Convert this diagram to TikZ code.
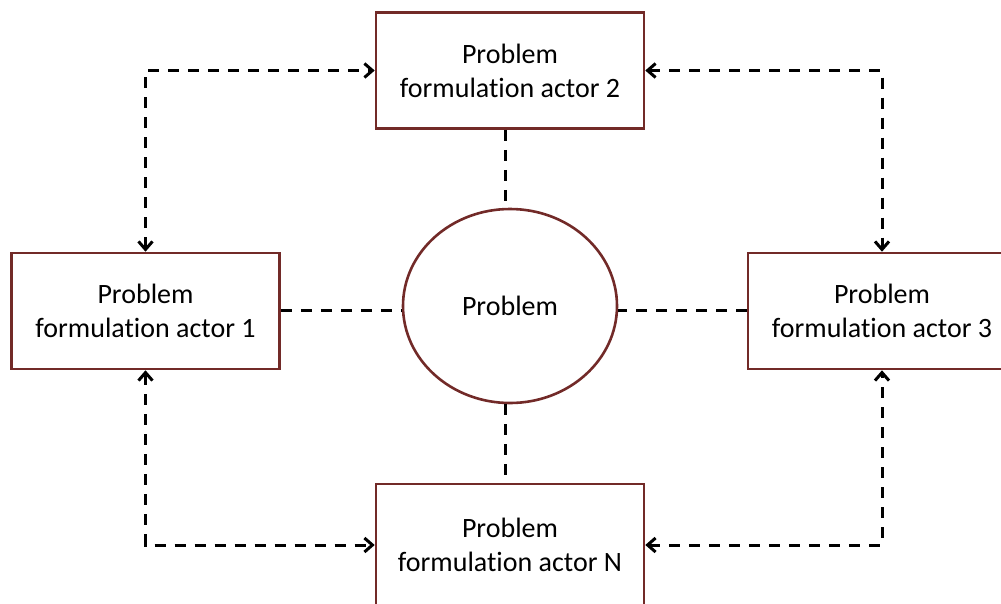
\documentclass[tikz,border=0pt]{standalone}
\usepackage{fontspec}
\setmainfont{Carlito}[RawFeature=-liga]
\usetikzlibrary{arrows.meta,shapes.geometric}
\definecolor{boxline}{RGB}{114,42,40}
\tikzset{
  actor/.style={draw=boxline, line width=2.6pt, fill=white, rectangle,
    minimum width=268pt, minimum height=116pt, align=center,
    font=\fontsize{28}{34}\selectfont, inner sep=0pt},
  core/.style={draw=boxline, line width=2.6pt, ellipse, fill=white,
    minimum width=214pt, minimum height=194pt, inner sep=0pt,
    font=\fontsize{28}{34}\selectfont},
  link/.style={black, line width=3pt, dash pattern=on 11pt off 9pt},
  twoway/.style={link, {Straight Barb[length=8pt,width=14pt]}-{Straight Barb[length=8pt,width=14pt]}}
}
\begin{document}
\begin{tikzpicture}[x=1pt, y=-1pt]
  \useasboundingbox (0,0) rectangle (1001,603);
  \clip (0,0) rectangle (1001,603);
  % actors around the shared problem
  \node[actor] (T) at (510,70.5) {Problem\\formulation actor 2};
  \node[actor] (L) at (145.5,311) {Problem\\formulation actor 1};
  \node[actor] (R) at (882,311) {Problem\\formulation actor 3};
  \node[actor, minimum height=122pt] (B) at (510,545) {Problem\\formulation actor N};
  \node[core] (E) at (510,306) {Problem};
  % links from each actor to the problem
  \draw[link] ([xshift=-5pt]T.south) -- ([xshift=-5pt]E.north);
  \draw[link] ([xshift=-5pt]E.south) -- ([xshift=-5pt]B.north);
  \draw[link] ([yshift=1pt]L.east) -- ([yshift=1pt]L.east -| E.west);
  \draw[link] ([yshift=1pt]R.west) -- ([yshift=1pt]R.west -| E.east);
  % exchanges between neighbouring actors
  \draw[twoway] (L.north) |- (T.west);
  \draw[twoway] (T.east) -| (R.north);
  \draw[twoway] (L.south) |- (B.west);
  \draw[twoway] (B.east) -| (R.south);
\end{tikzpicture}
\end{document}
